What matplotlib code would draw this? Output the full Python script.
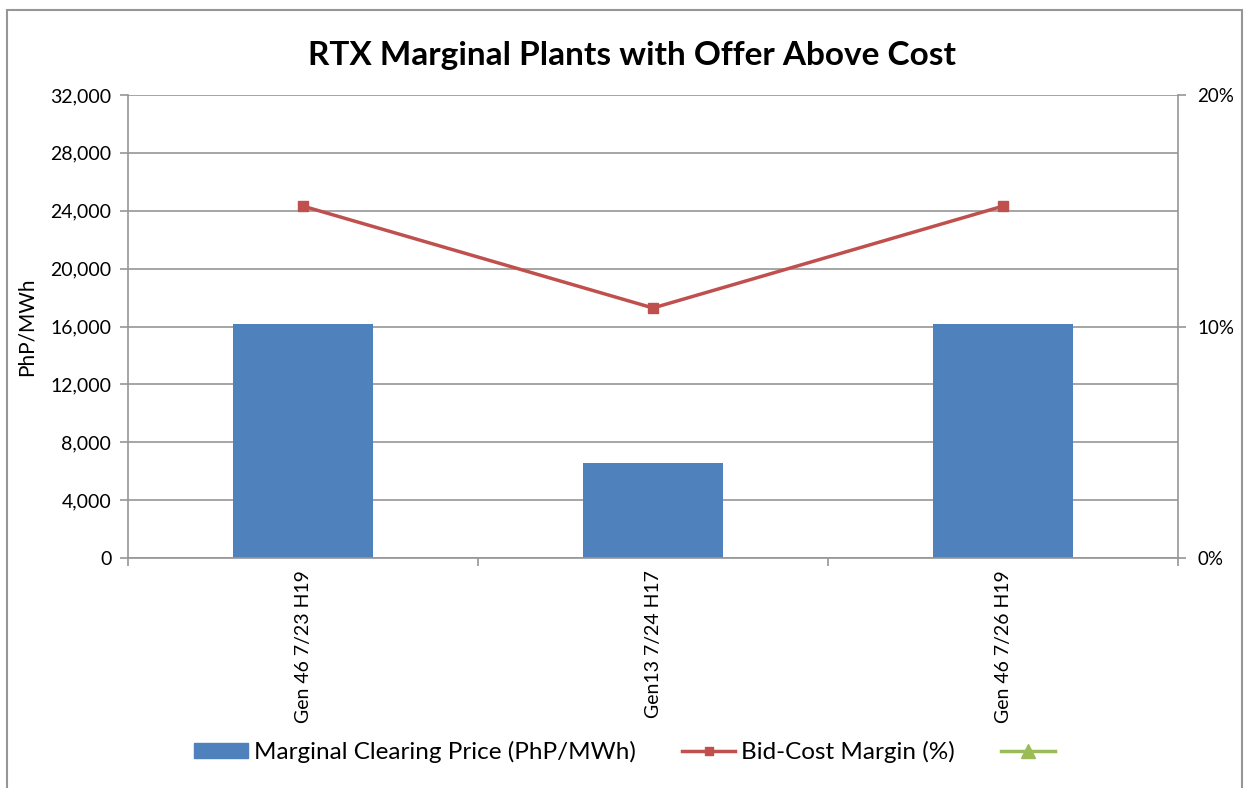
import matplotlib

matplotlib.use("Agg")

import matplotlib.pyplot as plt
from matplotlib.lines import Line2D
from matplotlib.patches import Patch, Rectangle
from matplotlib.ticker import FuncFormatter, MultipleLocator

categories = ["Gen 46 7/23 H19", "Gen13 7/24 H17", "Gen 46 7/26 H19"]
clearing_price = [16200, 6600, 16200]      # PhP/MWh
bid_cost_margin = [15.2, 10.8, 15.2]       # %

BLUE = "#4f81bd"
RED = "#c0504d"
GREEN = "#9bbb59"
GRAY = "#969696"

plt.rcParams["font.family"] = ["Lato", "DejaVu Sans"]

fig = plt.figure(figsize=(12.55, 7.88), dpi=100)
ax = fig.add_axes([128 / 1255, 1 - 558 / 788, 1050 / 1255, 463 / 788])
fig.patches.append(Rectangle((7 / 1255, -0.05), 1235 / 1255, 1.05 - 10 / 788,
                             transform=fig.transFigure, fill=False,
                             edgecolor=GRAY, linewidth=1.5))

x = range(len(categories))
ax.bar(x, clearing_price, width=0.4, color=BLUE, zorder=2)
ax.set_xlim(-0.5, len(categories) - 0.5)
ax.set_ylim(0, 32000)
ax.yaxis.set_major_locator(MultipleLocator(4000))
ax.yaxis.set_major_formatter(FuncFormatter(lambda v, p: f"{v:,.0f}"))
ax.grid(axis="y", color=GRAY, linewidth=1.2, zorder=0)
ax.set_ylabel("PhP/MWh", fontsize=15, labelpad=10)

ax.set_xticks(list(x))
ax.set_xticklabels(categories, rotation=90, fontsize=14)
ax.set_xticks([i - 0.5 for i in range(len(categories) + 1)], minor=True)
ax.tick_params(axis="x", which="major", length=0, pad=9)
ax.tick_params(axis="x", which="minor", length=6, color=GRAY, width=1.2)
ax.tick_params(axis="y", length=6, color=GRAY, width=1.2, labelsize=14, pad=6)

for side in ["top", "right"]:
    ax.spines[side].set_visible(False)
for side in ["left", "bottom"]:
    ax.spines[side].set_color(GRAY)
    ax.spines[side].set_linewidth(1.2)

ax2 = ax.twinx()
ax2.plot(x, bid_cost_margin, color=RED, linewidth=2.5, marker="s",
         markersize=7, zorder=3)
ax2.set_ylim(0, 20)
ax2.yaxis.set_major_locator(MultipleLocator(10))
ax2.yaxis.set_major_formatter(FuncFormatter(lambda v, p: f"{v:.0f}%"))
ax2.tick_params(axis="y", length=6, color=GRAY, width=1.2, labelsize=13.5, pad=8)
for side in ["top", "left", "bottom"]:
    ax2.spines[side].set_visible(False)
ax2.spines["right"].set_color(GRAY)
ax2.spines["right"].set_linewidth(1.2)

fig.text(632 / 1255, 1 - 55 / 788, "RTX Marginal Plants with Offer Above Cost",
         ha="center", va="center", fontsize=24, fontweight="bold")

handles = [
    Patch(color=BLUE),
    Line2D([], [], color=RED, linewidth=2.5, marker="s", markersize=6),
    Line2D([], [], color=GREEN, linewidth=2.5, marker="^", markersize=10),
]
labels = ["Marginal Clearing Price (PhP/MWh)", "Bid-Cost Margin (%)", ""]
fig.legend(handles, labels, loc="center", bbox_to_anchor=(0.5, 1 - 752 / 788),
           ncol=3, frameon=False, fontsize=17.5, handlelength=2.2,
           handleheight=0.6, columnspacing=1.9, handletextpad=0.25)

fig.savefig("out.png", dpi=100)
